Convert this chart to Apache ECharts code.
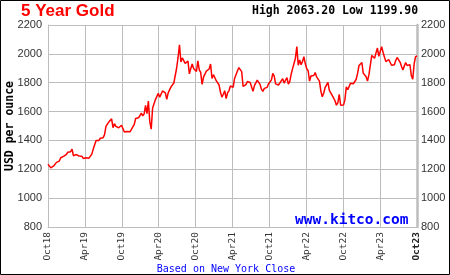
<!DOCTYPE html>
<html><head><meta charset="utf-8">
<script src="https://cdn.jsdelivr.net/npm/echarts@6/dist/echarts.min.js"></script>
<style>html,body{margin:0;padding:0;background:#fff}#c{width:450px;height:275px}</style>
</head><body><div id="c"></div>
<script>
// Weekly NY close (USD/oz), first value = week of 2018-10-26, one value per week
const startDate = '2018-10-26';
const prices2018 = [1235,1233,1210,1200,1223,1222,1248,1238,1257,1280];
const prices2019 = [1285,1290,1282,1303, 1318,1315,1322,1340, 1294,1298,1302,1313,1292,
  1291,1290,1275,1286, 1280,1285,1277,1284,1305, 1340,1341,1400,1410, 1400,1415,1426,1419,
  1440,1497,1513,1527,1520, 1550,1488,1516,1497, 1505,1488,1490,1505, 1514,1459,1468,1462,1464,
  1460,1476,1478,1511];
const prices2020 = [1552,1562,1557,1571,1589, 1570,1584,1643,1585, 1673,1530,1478,1625,
  1620,1683,1683,1727, 1700,1703,1743,1734,1730, 1685,1730,1743,1771, 1775,1798,1810,1902,1975,
  2063,1944,1972,1964, 1934,1940,1950,1861, 1899,1930,1899,1902,1878, 1951,1889,1871,1788,
  1839,1839,1881,1876];
const prices2021 = [1895,1930,1829,1856,1848, 1814,1824,1784,1734, 1700,1720,1745,1690,
  1729,1744,1777,1777,1769, 1831,1844,1881,1905, 1892,1877,1774,1781, 1787,1808,1815,1802,1814,
  1740,1780,1781,1818, 1827,1788,1754,1740, 1761,1757,1768,1793,1783, 1818,1865,1846,1792,
  1783,1784,1798,1811,1828];
const prices2022 = [1797,1817,1835,1791, 1807,1859,1898,1889, 1970,2050,1921,1958,
  1925,1946,1980,1931,1897, 1883,1811,1846,1853, 1850,1871,1840,1827, 1811,1742,1703,1727,1766,
  1775,1802,1747,1738, 1712,1716,1675,1644,1661, 1720,1644,1635,1645, 1681,1771,1751,1755,
  1797,1797,1793,1798,1824];
const prices2023 = [1866,1920,1926,1940, 1865,1865,1842,1811, 1856,1868,1989,1978,1969,
  2007,2040,1983,1990, 2050,2011,1977,1946, 1948,1961,1958,1921,1912, 1925,1955,1975,1959,
  1943,1914,1889,1915, 1940,1919,1924,1925,1849, 1825,1932,1981,1985];
const xLabels = ['Oct18','Apr19','Oct19','Apr20','Oct20','Apr21','Oct21','Apr22','Oct22','Apr23','Oct23'];
const yTicks = [800,1000,1200,1400,1600,1800,2000,2200];
const titleText = '5 Year Gold';
const statText = 'High 2063.20 Low 1199.90';
const yName = 'USD per ounce';
const siteText = 'www.kitco.com';
const footText = 'Based on New York Close';

const prices = [].concat(prices2018, prices2019, prices2020, prices2021, prices2022, prices2023);
const weeksPerTick = (prices.length - 1) / (xLabels.length - 1);
const seriesData = prices.map((p, i) => [i / weeksPerTick, p]);

const chart = echarts.init(document.getElementById('c'), null, {renderer: 'canvas'});
const gridColor = '#bdbdbd';
const yAxisCommon = {
  type: 'value', min: yTicks[0], max: yTicks[yTicks.length - 1], interval: yTicks[1] - yTicks[0],
  axisTick: {show: false},
  axisLabel: {color: '#333', fontFamily: 'Liberation Sans', fontSize: 11, formatter: v => String(v)}
};
chart.setOption({
  animation: false,
  backgroundColor: '#fff',
  grid: {left: 48, right: 33, top: 25, bottom: 48},
  xAxis: {
    type: 'value', min: 0, max: xLabels.length - 1, interval: 1,
    axisLine: {show: true, lineStyle: {color: gridColor, width: 1}},
    axisTick: {show: false},
    splitLine: {show: true, lineStyle: {color: gridColor, width: 1}},
    axisLabel: {
      rotate: 90, margin: 5, color: '#333', fontFamily: 'DejaVu Sans Mono', fontSize: 9.5,
      showMinLabel: true, showMaxLabel: true,
      formatter: v => {
        const k = Math.round(v);
        return k === xLabels.length - 1 ? '{b|' + xLabels[k] + '}' : xLabels[k];
      },
      rich: {b: {fontWeight: 'bold', fontFamily: 'DejaVu Sans Mono', fontSize: 9.5, color: '#222'}}
    }
  },
  yAxis: [
    Object.assign({}, yAxisCommon, {
      position: 'left',
      axisLine: {show: true, lineStyle: {color: gridColor, width: 1}},
      splitLine: {show: true, lineStyle: {color: gridColor, width: 1}},
      axisLabel: Object.assign({}, yAxisCommon.axisLabel, {margin: 6})
    }),
    Object.assign({}, yAxisCommon, {
      position: 'right',
      axisLine: {show: true, lineStyle: {color: gridColor, width: 2.5}},
      splitLine: {show: false},
      axisLabel: Object.assign({}, yAxisCommon.axisLabel, {margin: 4})
    })
  ],
  series: [{
    type: 'line', data: seriesData, yAxisIndex: 0, showSymbol: false, symbol: 'none',
    lineStyle: {color: '#ff0000', width: 1.5}, z: 5
  }],
  graphic: [
    {type: 'rect', shape: {x: 0.5, y: 0.5, width: 449, height: 274},
     style: {fill: 'none', stroke: '#000', lineWidth: 1}, z: 100, silent: true},
    {type: 'text', left: 21, top: 3,
     style: {text: titleText, fill: '#ff0000', font: 'bold 17px "Liberation Sans"'}},
    {type: 'text', left: 252, top: 5,
     style: {text: statText, fill: '#000', font: 'bold 11.5px "DejaVu Sans Mono"'}},
    {type: 'text', x: 10, y: 126, rotation: Math.PI / 2,
     style: {text: yName, fill: '#000', font: 'bold 11.5px "DejaVu Sans Mono"', align: 'center', verticalAlign: 'middle'}},
    {type: 'text', left: 295, top: 213, z: 10,
     style: {text: siteText, fill: '#0000ff', font: 'bold 14.5px "DejaVu Sans Mono"'}},
    {type: 'text', x: 226, y: 269,
     style: {text: footText, fill: '#0000ff', font: '10px "DejaVu Sans Mono"', align: 'center', verticalAlign: 'middle'}}
  ]
});
</script></body></html>
